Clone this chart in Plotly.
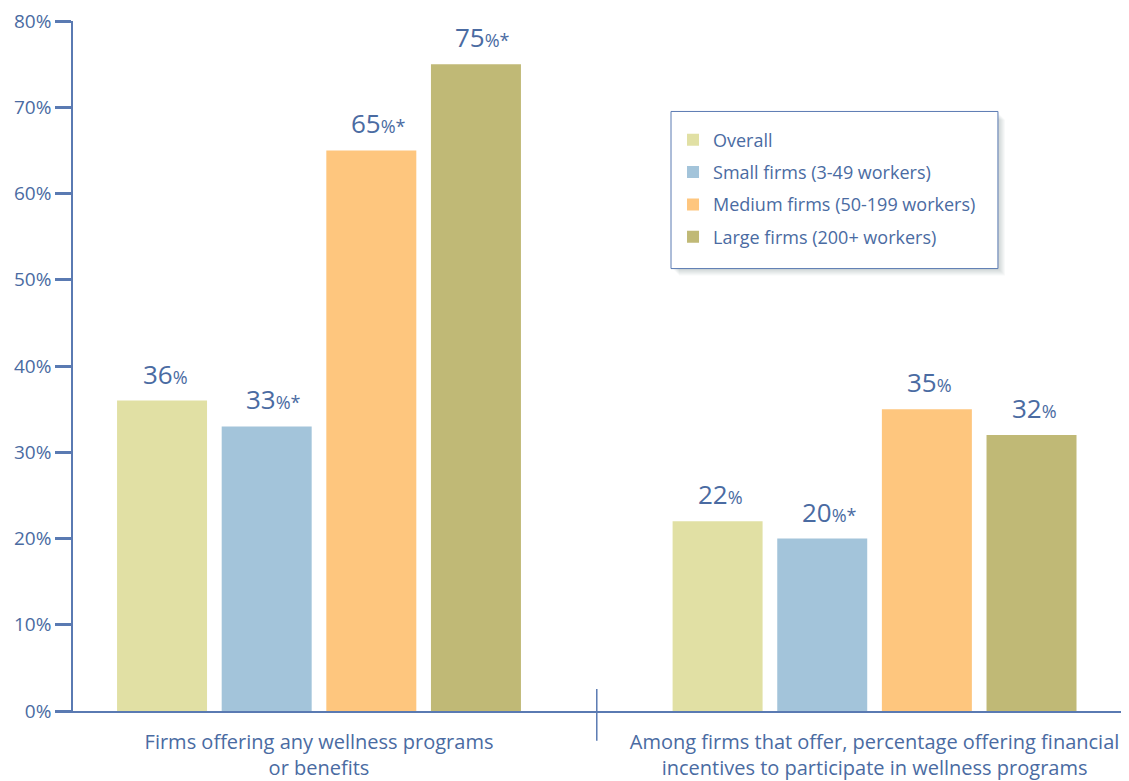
import plotly.graph_objects as go

# ---- data ----
categories = [
    "Firms offering any wellness programs<br>or benefits",
    "Among firms that offer, percentage offering financial<br>incentives to participate in wellness programs",
]
series_names = ["Overall", "Small firms (3-49 workers)", "Medium firms (50-199 workers)", "Large firms (200+ workers)"]
overall = [36, 22]
small = [33, 20]
medium = [65, 35]
large = [75, 32]
overall_sig = [False, False]
small_sig = [True, True]
medium_sig = [True, False]
large_sig = [True, False]
y_ticks = [0, 10, 20, 30, 40, 50, 60, 70, 80]
y_tick_labels = [f"{t}%" for t in y_ticks]

# ---- style ----
colors = ["#e1e0a4", "#a3c4da", "#fec67e", "#c0b976"]
text_color = "#4a6ba2"
axis_color = "#5a7ab2"
font_family = "Open Sans, Roboto, sans-serif"

series_values = [overall, small, medium, large]
series_sig = [overall_sig, small_sig, medium_sig, large_sig]

fig = go.Figure()
for i, (name, vals) in enumerate(zip(series_names, series_values)):
    fig.add_trace(go.Bar(
        x=categories, y=vals, name=name,
        marker=dict(color=colors[i], line=dict(width=0)),
        legendgroup=f"g{i}",
        hoverinfo="skip",
    ))

slot_px = 104.6
annotations = []
for i, (vals, sigs) in enumerate(zip(series_values, series_sig)):
    for cat, v, s in zip(categories, vals, sigs):
        txt = f"{v}<span style='font-size:18px'>%" + ("*" if s else "") + "</span>"
        annotations.append(dict(
            x=cat, y=v, xref="x", yref="y",
            text=txt, showarrow=False,
            xanchor="center", yanchor="bottom",
            xshift=(i - 1.5) * slot_px + 3 + (4 if s else 0),
            yshift=7,
            font=dict(size=26, color=text_color, family=font_family),
        ))

# legend box (page px 671..998 x 109..267 -> plot paper coords)
bx0, bx1, by0, by1 = 0.5663, 0.8759, 0.6412, 0.8689
shapes = [
    # divider between groups
    dict(type="line", xref="x", yref="paper", x0=0.5, x1=0.5, y0=0.032, y1=-0.043,
         line=dict(color=axis_color, width=1.5)),
]
# soft shadow for legend box
for d in range(1, 8):
    shapes.append(dict(type="rect", xref="paper", yref="paper",
                       x0=bx0 + (d + 1) / 1056, x1=bx1 + d / 1056,
                       y0=by0 - d / 694, y1=by1 - (d + 1) / 694,
                       fillcolor="rgba(40,50,70,0.03)", line=dict(width=0), layer="above"))
shapes.append(dict(type="rect", xref="paper", yref="paper",
                   x0=bx0, x1=bx1, y0=by0, y1=by1,
                   fillcolor="white", line=dict(color=axis_color, width=1), layer="above"))

fig.update_layout(
    width=1121, height=773,
    margin=dict(l=65, r=0, t=10, b=69),
    paper_bgcolor="white", plot_bgcolor="white",
    barmode="group", bargap=0.2466, bargroupgap=0.14,
    font=dict(family=font_family, color=text_color),
    showlegend=True,
    legend=dict(
        x=0.5682, y=0.8544, xanchor="left", yanchor="top",
        bgcolor="rgba(0,0,0,0)", borderwidth=0,
        font=dict(size=18, color=text_color, family=font_family),
        tracegroupgap=6, traceorder="grouped",
    ),
    annotations=annotations,
    shapes=shapes,
    xaxis=dict(
        type="category", range=[-0.4428, 1.458],
        showline=True, linecolor=axis_color, linewidth=1.5,
        ticks="outside", ticklen=12, tickcolor="rgba(0,0,0,0)",
        tickfont=dict(size=20, color=text_color, family=font_family),
        showgrid=False, zeroline=False, fixedrange=True,
    ),
    yaxis=dict(
        range=[0, 80], tickvals=y_ticks, ticktext=y_tick_labels,
        showline=True, linecolor=axis_color, linewidth=1.5,
        ticks="outside", ticklen=16, tickwidth=2.5, tickcolor=axis_color,
        tickfont=dict(size=19, color=text_color, family=font_family),
        ticklabeloverflow="allow",
        showgrid=False, zeroline=False, fixedrange=True,
    ),
)

fig.write_html("out.html")
